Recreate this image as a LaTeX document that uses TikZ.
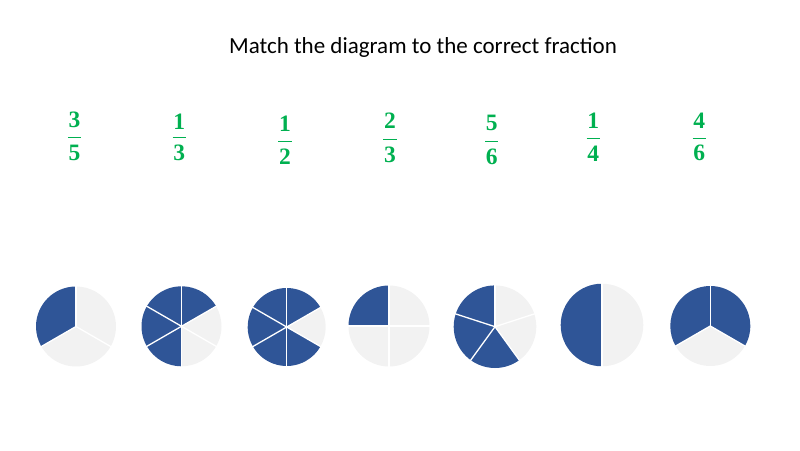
\documentclass[tikz,border=0pt]{standalone}
\usepackage{fontspec}
\newfontfamily\titlefont{Carlito}
\newfontfamily\fracfont{Liberation Serif}
\definecolor{pieblue}{HTML}{2F5597}
\definecolor{pielight}{HTML}{F2F2F2}
\definecolor{fracgreen}{HTML}{00B050}
\newcommand\mysector[5]{\fill[#1] (#2) -- ++(#4:#3) arc[start angle=#4, end angle=#5, radius=#3] -- cycle;}
\newcommand\myspokes[3]{\foreach \a in {#3} {\draw[spoke] (#1) -- ++(\a:#2+1);}}
\newcommand\myfrac[7]{%
  \node[fracnum] (#1n) at (#2,450-#3) {#6};
  \coordinate (#1a) at (#2-6.7,450-#4);
  \coordinate (#1b) at (#2+6.7,450-#4);
  \draw[fracbar] (#1a) -- (#1b);
  \node[fracnum] (#1d) at (#2,450-#5) {#7};}
\begin{document}
\begin{tikzpicture}[x=1pt,y=1pt,
  spoke/.style={draw=white,line width=1.3pt},
  fracnum/.style={text=fracgreen,font=\fracfont\fontsize{23.5}{26}\selectfont\bfseries,inner sep=0pt},
  fracbar/.style={draw=fracgreen,line width=1.4pt},
  titlestyle/.style={font=\titlefont\fontsize{23}{26}\selectfont,inner sep=0pt}]
\useasboundingbox (0,0) rectangle (800,450);
\node[titlestyle,anchor=base] (title) at (423,450-54) {Match the diagram to the correct fraction};
% fractions
\myfrac{f1}{74.5}{120.3}{137.7}{153}{3}{5}
\myfrac{f2}{179.3}{121.5}{137.7}{153}{1}{3}
\myfrac{f3}{285}{124}{141.7}{156.7}{1}{2}
\myfrac{f4}{390}{120.5}{139.3}{155}{2}{3}
\myfrac{f5}{491.7}{123}{141.7}{156.7}{5}{6}
\myfrac{f6}{593.3}{120.5}{138.3}{153.3}{1}{4}
\myfrac{f7}{699.3}{120.5}{138.3}{153.3}{4}{6}
% pie 1 : thirds, 1 blue
\coordinate (p1) at (76,123.5);
\mysector{pieblue}{p1}{40}{90}{210}
\mysector{pielight}{p1}{40}{210}{450}
\myspokes{p1}{40}{90,210,330}
% pie 2 : sixths, 4 blue
\coordinate (p2) at (181.5,123.7);
\mysector{pieblue}{p2}{40}{30}{270}
\mysector{pielight}{p2}{40}{270}{390}
\myspokes{p2}{40}{30,90,150,210,270,330}
% pie 3 : sixths, 5 blue
\coordinate (p3) at (286.7,123);
\mysector{pieblue}{p3}{39}{30}{330}
\mysector{pielight}{p3}{39}{-30}{30}
\myspokes{p3}{39}{30,90,150,210,270,330}
% pie 4 : quarters, 1 blue
\coordinate (p4) at (389,124);
\mysector{pieblue}{p4}{40.5}{90}{180}
\mysector{pielight}{p4}{40.5}{180}{450}
\myspokes{p4}{40.5}{0,90,180,270}
% pie 5 : fifths, 3 blue
\coordinate (p5) at (495,123.3);
\mysector{pieblue}{p5}{41.3}{90}{306}
\mysector{pielight}{p5}{41.3}{306}{450}
\myspokes{p5}{41.3}{90,162,234,306,18}
% pie 6 : halves
\coordinate (p6) at (602,125);
\mysector{pieblue}{p6}{41.3}{90}{270}
\mysector{pielight}{p6}{41.3}{270}{450}
\myspokes{p6}{41.3}{90,270}
% pie 7 : thirds, 2 blue
\coordinate (p7) at (710.3,124);
\mysector{pieblue}{p7}{40}{-30}{210}
\mysector{pielight}{p7}{40}{210}{330}
\myspokes{p7}{40}{90,210,330}
\end{tikzpicture}
\end{document}
